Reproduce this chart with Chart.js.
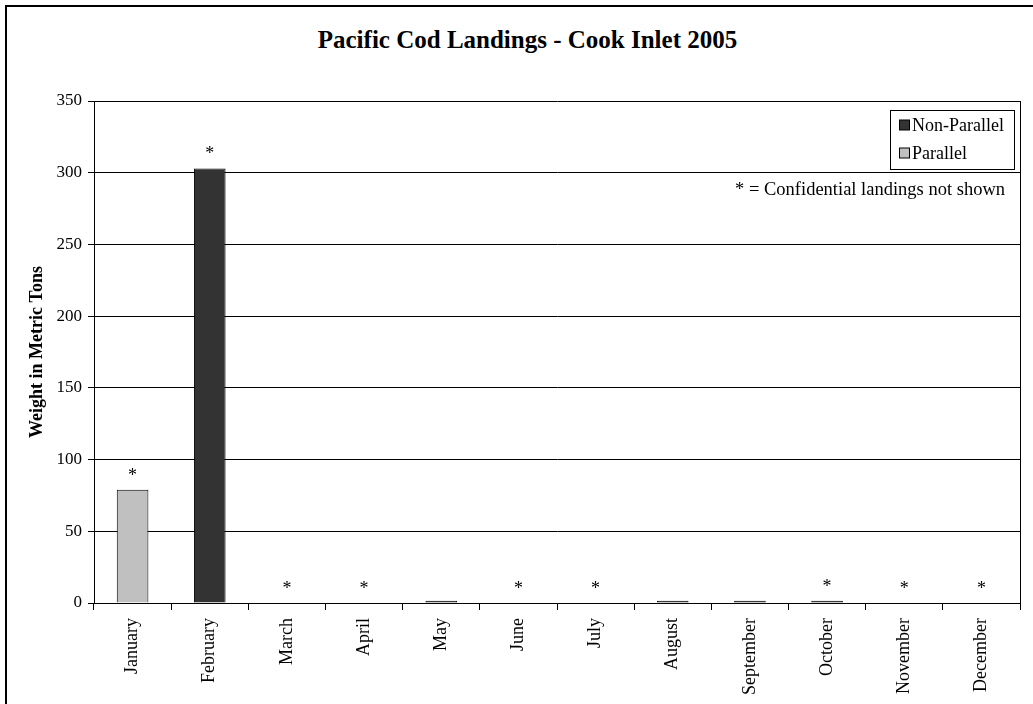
<!DOCTYPE html>
<html>
<head>
<meta charset="utf-8">
<script src="https://cdn.jsdelivr.net/npm/chart.js@4.4.1/dist/chart.umd.min.js"></script>
<style>
  html, body { margin: 0; padding: 0; width: 1033px; height: 704px; overflow: hidden; background: #fff; }
  #frame { position: absolute; left: 5px; top: 5px; width: 1100px; height: 800px; border: 2px solid #000; }
  #title { position: absolute; left: 0; top: 27px; width: 1055px; text-align: center;
           font: bold 25px/25px "Liberation Serif", "Times New Roman", serif; color: #000; }
  #wrap { position: absolute; left: 0; top: 0; width: 1033px; height: 704px; }
</style>
</head>
<body>
<div id="frame"></div>
<div id="title">Pacific Cod Landings - Cook Inlet 2005</div>
<div id="wrap"><canvas id="chart"></canvas></div>
<script>
const months = ["January", "February", "March", "April", "May", "June",
                "July", "August", "September", "October", "November", "December"];
// metric tons
const parallel    = [79, null, null, null, null, null, null, null, null, null, null, null];
const nonParallel = [null, 303, null, null, 1.5, null, null, 1.5, 1.5, 1.5, null, null];
// months marked with "*" (confidential landings)
const confidential = [true, true, true, true, false, true, true, false, false, true, true, true];
const yMin = 0, yMax = 350, yStep = 50;
const noteText = "* = Confidential landings not shown";

const serif = '"Liberation Serif", "Times New Roman", serif';

// asterisks, legend box, note and right border of the plot
const extras = {
  id: "extras",
  afterDraw(chart) {
    const ctx = chart.ctx;
    const area = chart.chartArea;
    const x = chart.scales.x, y = chart.scales.y;
    ctx.save();

    // right edge of the plot
    ctx.strokeStyle = "#000";
    ctx.lineWidth = 1;
    ctx.beginPath();
    ctx.moveTo(Math.round(area.right) + 0.5, area.top);
    ctx.lineTo(Math.round(area.right) + 0.5, area.bottom);
    ctx.stroke();

    // asterisks above confidential months
    ctx.fillStyle = "#000";
    ctx.font = "18px " + serif;
    ctx.textAlign = "center";
    ctx.textBaseline = "alphabetic";
    months.forEach((m, i) => {
      if (!confidential[i]) return;
      const total = (parallel[i] || 0) + (nonParallel[i] || 0);
      ctx.fillText("*", x.getPixelForValue(i), y.getPixelForValue(total) - 9);
    });

    // legend box
    const bx = 890.5, by = 110.5, bw = 124, bh = 59;
    ctx.fillStyle = "#fff";
    ctx.fillRect(bx, by, bw, bh);
    ctx.strokeRect(bx, by, bw, bh);
    const items = chart.data.datasets.slice().reverse();
    ctx.font = "18px " + serif;
    ctx.textAlign = "left";
    ctx.textBaseline = "middle";
    items.forEach((ds, k) => {
      const cy = 125 + k * 28;
      ctx.fillStyle = ds.backgroundColor;
      ctx.fillRect(899.5, cy - 5, 10, 10);
      ctx.strokeRect(899.5, cy - 5, 10, 10);
      ctx.fillStyle = "#000";
      ctx.fillText(ds.label, 912, cy + 1);
    });

    // note
    ctx.font = "18.5px " + serif;
    ctx.textAlign = "right";
    ctx.textBaseline = "middle";
    ctx.fillText(noteText, 1005, 190);

    ctx.restore();
  }
};

new Chart(document.getElementById("chart"), {
  type: "bar",
  data: {
    labels: months,
    datasets: [
      {
        label: "Parallel",
        data: parallel,
        backgroundColor: "#c0c0c0",
        borderColor: "#000",
        borderWidth: 1,
      },
      {
        label: "Non-Parallel",
        data: nonParallel,
        backgroundColor: "#333333",
        borderColor: "#000",
        borderWidth: 1,
      },
    ],
  },
  options: {
    responsive: true,
    maintainAspectRatio: false,
    animation: false,
    layout: { padding: { top: 101, right: 13, left: 0, bottom: 0 } },
    datasets: { bar: { categoryPercentage: 1, barPercentage: 0.41 } },
    plugins: {
      legend: { display: false },
      title: { display: false },
      tooltip: { enabled: false },
    },
    scales: {
      x: {
        stacked: true,
        afterFit: (s) => { s.height = 101; },
        grid: { display: true, drawOnChartArea: false, drawTicks: true, tickLength: 7, color: "#000", offset: true },
        border: { display: true, color: "#000", width: 1 },
        ticks: {
          color: "#000",
          font: { family: serif, size: 18 },
          minRotation: 90,
          maxRotation: 90,
          padding: 8,
          autoSkip: false,
        },
      },
      y: {
        stacked: true,
        min: yMin,
        max: yMax,
        afterFit: (s) => { s.width = 94; },
        grid: { color: "#000", lineWidth: 1, tickLength: 6 },
        border: { display: true, color: "#000", width: 1 },
        ticks: {
          stepSize: yStep,
          color: "#000",
          font: { family: serif, size: 17 },
          padding: 6,
        },
        title: {
          display: true,
          text: "Weight in Metric Tons",
          color: "#000",
          font: { family: serif, size: 18, weight: "bold" },
          padding: { top: 27, bottom: 0 },
        },
      },
    },
  },
  plugins: [extras],
});
</script>
</body>
</html>
